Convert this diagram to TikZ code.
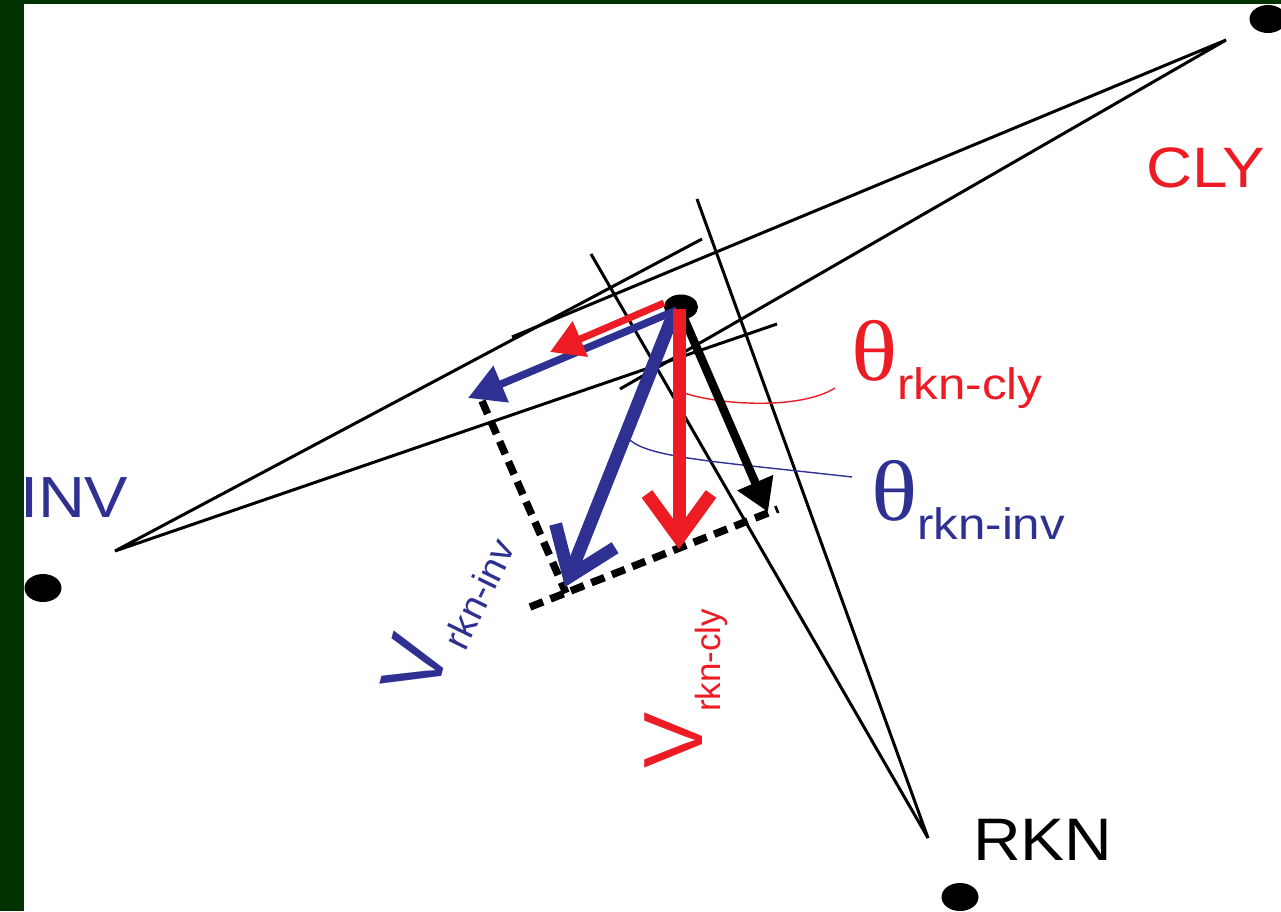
\documentclass[tikz,border=0pt]{standalone}
\usepackage{fontspec}
\setmainfont{Liberation Sans}
\newfontfamily\thetafont{Liberation Serif}
\usetikzlibrary{arrows.meta,shapes.geometric}
\definecolor{bgreen}{RGB}{0,51,0}
\definecolor{dred}{RGB}{237,28,36}
\definecolor{dblue}{RGB}{46,49,146}
\begin{document}
\begin{tikzpicture}[x=1pt,y=-1pt,
  thinline/.style={line width=3pt, black},
  dashline/.style={black, line width=7.5pt, dash pattern=on 14pt off 8pt},
  stationdot/.style={ellipse, fill=black, minimum width=37pt, minimum height=28pt, inner sep=0pt},
  lbl/.style={inner sep=0pt, outer sep=0pt},
  arcline/.style={line width=1.4pt},
  openhead/.style={-{Straight Barb[length=44pt,width=64pt]}, line width=13pt},
]
\fill[bgreen] (0,0) rectangle (1281,911);
\fill[white] (24,4) rectangle (1281,911);
\useasboundingbox (0,0) rectangle (1281,911);

% station dots
\node[stationdot] (invdot) at (43,588) {};
\node[stationdot] (rkndot) at (960,897) {};
\node[stationdot] (clydot) at (1268,19) {};

% wedge coordinates
\coordinate (invA) at (115,551);
\coordinate (invE1) at (702,239);
\coordinate (invE2) at (777,324);
\coordinate (clyA) at (1226,40);
\coordinate (clyE1) at (512,337);
\coordinate (clyE2) at (620,389);
\coordinate (rknA) at (928,838);
\coordinate (rknE1) at (591,254);
\coordinate (rknE2) at (697,199);

\draw[thinline] (invE1) -- (invA) -- (invE2);
\draw[thinline] (clyE1) -- (clyA) -- (clyE2);
\draw[thinline] (rknE1) -- (rknA) -- (rknE2);

% angle curves
\coordinate (rcS) at (684,393);
\coordinate (rcE) at (835,388);
\coordinate (bcS) at (630,440);
\coordinate (bcE) at (852,477);
\draw[dred, arcline] (rcS) .. controls (720,405) and (800,410) .. (rcE);
\draw[dblue, arcline] (bcS) .. controls (650,458) and (720,462) .. (bcE);

% dashed projection lines
\coordinate (dA) at (482,401);
\coordinate (dC) at (566,593);
\coordinate (dL) at (530,607);
\coordinate (dR) at (778,509);
\draw[dashline] (dA) -- (dC);
\draw[dashline] (dL) -- (dR);

% center
\node[ellipse, fill=black, minimum width=34pt, minimum height=25pt, inner sep=0pt] (cen) at (681,307) {};

% arrows
\coordinate (rsS) at (664,303);
\coordinate (rsT) at (550,352);
\coordinate (bsS) at (677,310);
\coordinate (bsT) at (468,398);
\coordinate (bkS) at (683,316);
\coordinate (bkT) at (768,512);
\coordinate (blS) at (674,313);
\coordinate (blT) at (565,587);
\coordinate (rlS) at (679,309);
\coordinate (rlT) at (679,549);

\draw[black, line width=8.5pt, -{Triangle[length=32pt,width=37pt]}] (bkS) -- (bkT);
\draw[dblue, line width=7.5pt, -{Triangle[length=36pt,width=38pt]}] (bsS) -- (bsT);
\draw[dred, line width=7pt, -{Triangle[length=33pt,width=37pt]}] (rsS) -- (rsT);
\draw[dblue, openhead] (blS) -- (blT);
\draw[dred, openhead] (rlS) -- (rlT);

% labels
\node[lbl, anchor=base west, xscale=1.12, text=dred, font=\fontsize{57}{57}\selectfont] (clyL) at (1146,187) {CLY};
\node[lbl, anchor=base west, xscale=1.12, text=dblue, font=\fontsize{58}{58}\selectfont] (invL) at (20,517) {INV};
\node[lbl, anchor=base west, xscale=1.1, text=black, font=\fontsize{60}{60}\selectfont] (rknL) at (973,860) {RKN};

\node[lbl, anchor=base west, xscale=1.12, text=dred] (thcly) at (851,380)
  {{\thetafont\fontsize{86}{86}\selectfont θ}\raisebox{-19pt}{\fontsize{44}{44}\selectfont rkn-cly}};
\node[lbl, anchor=base west, xscale=1.12, text=dblue] (thinv) at (871,520)
  {{\thetafont\fontsize{86}{86}\selectfont θ}\raisebox{-19pt}{\fontsize{44}{44}\selectfont rkn-inv}};

\node[lbl, rotate=90, anchor=base west, text=dred] (vcly) at (702,768)
  {{\fontsize{84}{84}\selectfont V}\raisebox{-18pt}{\fontsize{35}{35}\selectfont rkn-cly}};
\node[lbl, rotate=75, anchor=base west, text=dblue, font=\fontsize{84}{84}\selectfont] (vinv) at (435,699) {V};
\node[lbl, rotate=64, xscale=1.05, anchor=base west, text=dblue, font=\fontsize{37}{37}\selectfont] (vinvsub) at (465,652) {rkn-inv};
\end{tikzpicture}
\end{document}
